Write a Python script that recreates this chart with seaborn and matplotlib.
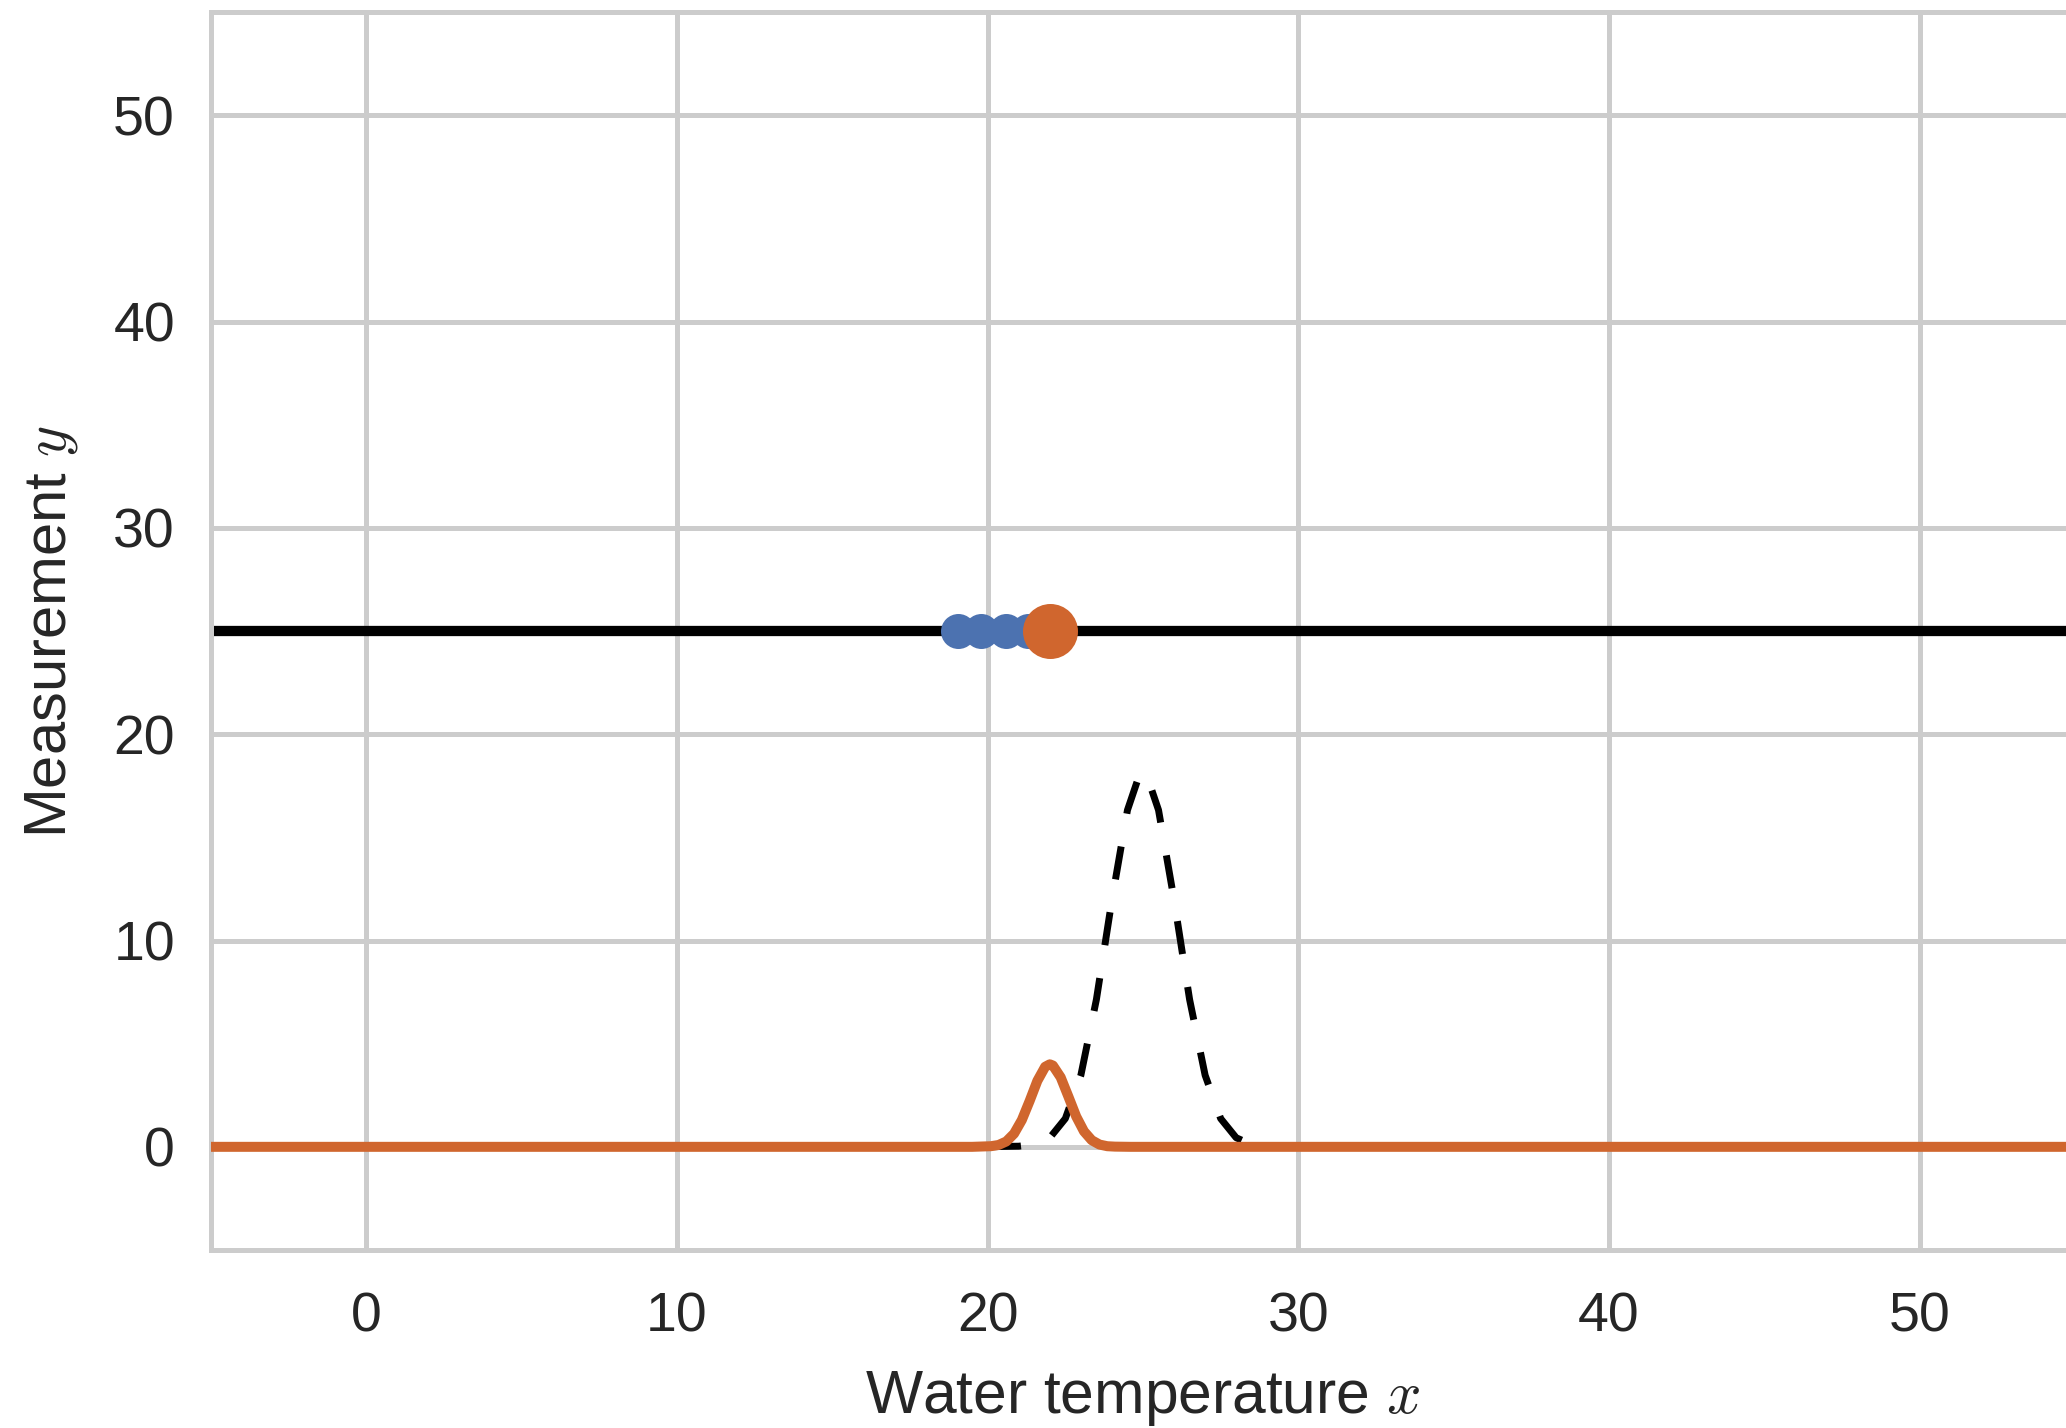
import matplotlib
matplotlib.use("Agg")
import matplotlib.pyplot as plt
import seaborn as sns

# ---- data ----
line_level = 25.0
line_x = [-6.0, 56.0]

blue_x = [19.05, 19.8, 20.6, 21.3]
blue_y = [25.0, 25.0, 25.0, 25.0]

current_x = [22.0]
current_y = [25.0]

dashed_x = [20.0, 20.5, 21.0, 21.5, 22.0, 22.5, 23.0, 23.5, 24.0, 24.5,
            24.9, 25.1, 25.5, 26.0, 26.5, 27.0, 27.5, 28.0, 28.5, 29.0, 29.5, 30.0]
dashed_y = [0.0, 0.02, 0.03, 0.11, 0.44, 1.37, 3.47, 7.14, 11.97, 16.32,
            18.1, 18.1, 16.32, 11.97, 7.14, 3.47, 1.37, 0.44, 0.11, 0.03, 0.02, 0.0]

orange_x = [-6.0, 19.5, 20.1, 20.35, 20.6, 20.85, 21.1, 21.35, 21.6, 21.85, 22.0,
            22.1, 22.35, 22.6, 22.85, 23.1, 23.35, 23.6, 23.85, 24.1, 24.6, 56.0]
orange_y = [0.0, 0.0, 0.03, 0.09, 0.26, 0.64, 1.30, 2.22, 3.20, 3.88, 4.0,
            3.94, 3.37, 2.43, 1.47, 0.75, 0.32, 0.11, 0.03, 0.01, 0.0, 0.0]

x_ticks = [0, 10, 20, 30, 40, 50]
y_ticks = [0, 10, 20, 30, 40, 50]
x_label = "Water temperature $x$"
y_label = "Measurement $y$"

BLUE = "#4c72b0"
ORANGE = "#d0662e"

sns.set_theme(style="whitegrid")
plt.rcParams["font.family"] = ["Liberation Sans", "DejaVu Sans"]
plt.rcParams["mathtext.fontset"] = "cm"

DPI = 200
fig = plt.figure(figsize=(2066 / DPI, 1428 / DPI), dpi=DPI)
ax = fig.add_axes([211 / 2066, 178 / 1428, (2075 - 211) / 2066, (1250 - 12) / 1428])

sns.lineplot(x=line_x, y=[line_level] * len(line_x), ax=ax, color="black",
             linewidth=3.7, estimator=None, zorder=2)

dash_lw = 2.5
sns.lineplot(x=dashed_x, y=dashed_y, ax=ax, color="black", linewidth=dash_lw,
             estimator=None, zorder=3, dashes=False)
ax.lines[-1].set_dashes([12 / dash_lw, 12 / dash_lw])

sns.lineplot(x=orange_x, y=orange_y, ax=ax, color=ORANGE, linewidth=3.6,
             estimator=None, zorder=4)

sns.scatterplot(x=blue_x, y=blue_y, ax=ax, color=BLUE, s=12.6 ** 2,
                linewidth=0, zorder=5)
sns.scatterplot(x=current_x, y=current_y, ax=ax, color=ORANGE, s=19.8 ** 2,
                linewidth=0, zorder=6)

ax.set_xlim(-5, 55)
ax.set_ylim(-5, 55)
ax.set_xticks(x_ticks)
ax.set_yticks(y_ticks)
ax.tick_params(axis="both", labelsize=20, colors="#262626", length=0)
ax.tick_params(axis="x", pad=15)
ax.tick_params(axis="y", pad=13)
ax.grid(True, color="#cccccc", linewidth=1.8)
for sp in ax.spines.values():
    sp.set_color("#cccccc")
    sp.set_linewidth(1.8)
ax.set_xlabel(x_label, fontsize=21.8, color="#262626", labelpad=9)
ax.set_ylabel(y_label, fontsize=21.5, color="#262626", labelpad=12)

fig.savefig("out.png", dpi=DPI)
